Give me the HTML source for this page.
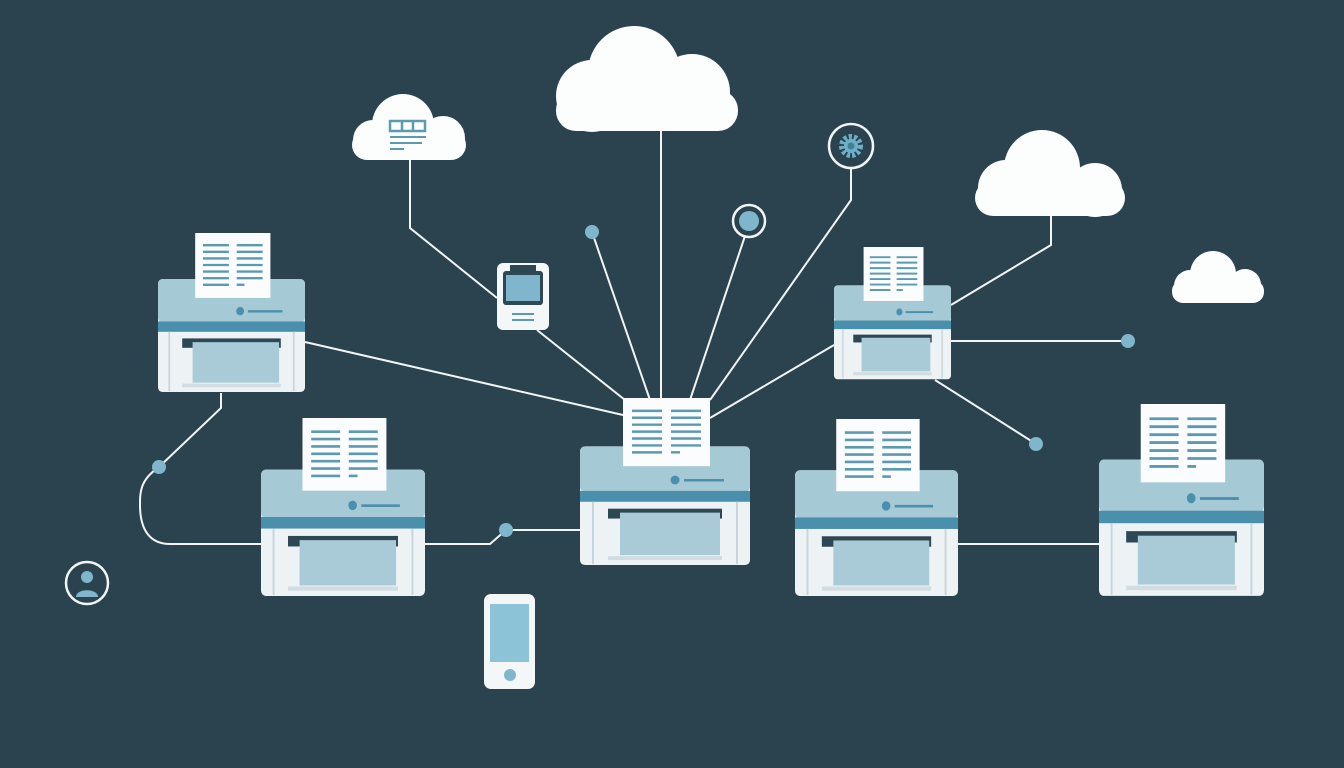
<!DOCTYPE html>
<html><head><meta charset="utf-8"><style>html,body{margin:0;padding:0;background:#2a434f;}svg{display:block}</style></head>
<body>
<svg width="1344" height="768" viewBox="0 0 1344 768" xmlns="http://www.w3.org/2000/svg">
<defs>
<symbol id="pr" viewBox="0 0 170 170" preserveAspectRatio="none">
  <rect x="0" y="49" width="170" height="120" rx="5" fill="#edf2f4"/>
  <rect x="0" y="49" width="170" height="46" rx="5" fill="#a6c9d6"/>
  <rect x="0" y="94" width="170" height="11" fill="#4a8fac"/>
  <rect x="12" y="105" width="2" height="63" fill="#c8d6dc"/>
  <rect x="156" y="105" width="2" height="63" fill="#c8d6dc"/>
  <rect x="28" y="112" width="114" height="10" fill="#2d4753"/>
  <rect x="40" y="116" width="100" height="43" fill="#a9cbd7"/>
  <rect x="28" y="160" width="114" height="4" fill="#d2dde2"/>
  <circle cx="95" cy="90" r="0" fill="#4a8fac"/>
  <rect x="43" y="0" width="87" height="69" fill="#fbfcfd"/>
  <g stroke="#5d9ab2" stroke-width="2.5">
    <line x1="52" y1="13" x2="82" y2="13"/><line x1="91" y1="13" x2="121" y2="13"/>
    <line x1="52" y1="20" x2="82" y2="20"/><line x1="91" y1="20" x2="121" y2="20"/>
    <line x1="52" y1="27" x2="82" y2="27"/><line x1="91" y1="27" x2="121" y2="27"/>
    <line x1="52" y1="34" x2="82" y2="34"/><line x1="91" y1="34" x2="121" y2="34"/>
    <line x1="52" y1="41" x2="82" y2="41"/><line x1="91" y1="41" x2="121" y2="41"/>
    <line x1="52" y1="48" x2="82" y2="48"/><line x1="91" y1="48" x2="121" y2="48"/>
    <line x1="52" y1="55" x2="82" y2="55"/><line x1="91" y1="55" x2="100" y2="55"/>
  </g>
  <circle cx="95" cy="83" r="4.5" fill="#4a8fac"/>
  <rect x="104" y="82" width="40" height="2.5" fill="#4a8fac"/>
</symbol>
</defs>
<rect width="1344" height="768" fill="#2a434f"/>
<g stroke="#f2f5f6" stroke-width="2" fill="none">
  <line x1="661" y1="130" x2="661" y2="400"/>
  <polyline points="410,160 410,228 497,298"/>
  <line x1="537" y1="330" x2="625" y2="400"/>
  <line x1="592" y1="232" x2="650" y2="400"/>
  <line x1="745" y1="236" x2="690" y2="400"/>
  <polyline points="851,168 851,200 710,400"/>
  <line x1="305" y1="342" x2="623" y2="415"/>
  <line x1="710" y1="418" x2="834" y2="345"/>
  <polyline points="951,305 1051,245 1051,214"/>
  <line x1="951" y1="341" x2="1128" y2="341"/>
  <line x1="935" y1="380" x2="1036" y2="444"/>
  <polyline points="221,393 221,408 159,467"/>
  <path d="M159,467 C140,480 140,492 140,505 C140,530 150,544 170,544 L261,544"/>
  <polyline points="425,544 490,544 506,530 580,530"/>
  <line x1="958" y1="544" x2="1099" y2="544"/>
</g>
<use href="#pr" x="158" y="233" width="147" height="160"/>
<use href="#pr" x="261" y="418" width="164" height="179"/>
<use href="#pr" x="580" y="398" width="170" height="168"/>
<use href="#pr" x="834" y="247" width="117" height="133"/>
<use href="#pr" x="795" y="419" width="163" height="178"/>
<use href="#pr" x="1099" y="404" width="165" height="193"/>
<g fill="#fcfdfd">
  <!-- top cloud -->
  <circle cx="634" cy="72" r="46"/><circle cx="592" cy="96" r="36"/><circle cx="692" cy="92" r="38"/><rect x="556" y="90" width="182" height="41" rx="20"/>
  <!-- small left cloud -->
  <circle cx="403" cy="125" r="31"/><circle cx="373" cy="140" r="20"/><circle cx="443" cy="138" r="22"/><rect x="352" y="130" width="114" height="30" rx="15"/>
  <!-- right big cloud -->
  <circle cx="1042" cy="168" r="38"/><circle cx="1006" cy="188" r="28"/><circle cx="1095" cy="190" r="27"/><rect x="975" y="180" width="150" height="36" rx="18"/>
  <!-- small right cloud -->
  <circle cx="1213" cy="274" r="23"/><circle cx="1190" cy="286" r="16"/><circle cx="1245" cy="285" r="16"/><rect x="1172" y="280" width="92" height="23" rx="11"/>
</g>
<g fill="none" stroke="#5d9ab2" stroke-width="2.5">
  <rect x="390" y="121" width="35" height="10"/><line x1="402" y1="121" x2="402" y2="131"/><line x1="413" y1="121" x2="413" y2="131"/>
</g>
<g stroke="#5d9ab2" stroke-width="2"><line x1="390" y1="137" x2="426" y2="137"/><line x1="390" y1="143" x2="422" y2="143"/><line x1="390" y1="149" x2="404" y2="149"/></g>
<!-- device -->
<rect x="497" y="263" width="52" height="67" rx="6" fill="#f4f7f8"/>
<rect x="510" y="265" width="26" height="6" fill="#2d4753"/>
<rect x="503" y="271" width="40" height="34" rx="3" fill="#2d4753"/>
<rect x="506" y="275" width="34" height="26" fill="#7fb6cc"/>
<line x1="512" y1="314" x2="534" y2="314" stroke="#5d9ab2" stroke-width="2"/><line x1="512" y1="320" x2="534" y2="320" stroke="#5d9ab2" stroke-width="2"/>
<!-- dots -->
<g fill="#7fb6cc">
  <circle cx="592" cy="232" r="7"/><circle cx="1128" cy="341" r="7"/><circle cx="1036" cy="444" r="7"/><circle cx="159" cy="467" r="7"/><circle cx="506" cy="530" r="7"/>
</g>
<circle cx="749" cy="221" r="16" fill="#2a434f" stroke="#f2f5f6" stroke-width="2.5"/><circle cx="749" cy="221" r="10" fill="#7fb6cc"/>
<circle cx="851" cy="146" r="22" fill="#2a434f" stroke="#f2f5f6" stroke-width="2.5"/>
<circle cx="851" cy="146" r="9" fill="none" stroke="#6fb0c8" stroke-width="6" stroke-dasharray="3 2"/><circle cx="851" cy="146" r="7" fill="#6fb0c8"/><circle cx="851" cy="146" r="3.5" fill="#3f7f98"/>
<!-- user -->
<circle cx="87" cy="583" r="21" fill="#2a434f" stroke="#f2f5f6" stroke-width="2.5"/>
<circle cx="87" cy="577" r="6" fill="#7fb6cc"/><path d="M76,597 C76,588 98,588 98,597 Z" fill="#7fb6cc"/>
<!-- phone -->
<rect x="484" y="594" width="51" height="95" rx="7" fill="#f4f7f8"/>
<rect x="490" y="604" width="39" height="58" fill="#8cc3d7"/>
<circle cx="510" cy="675" r="6" fill="#7fb6cc"/>
</svg>
</body></html>
